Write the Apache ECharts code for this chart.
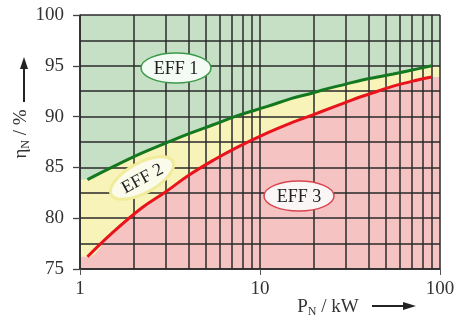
<!doctype html>
<html>
<head>
    <meta charset="utf-8">
    <title>EFF</title>
    <script src="https://cdn.jsdelivr.net/npm/echarts@6/dist/echarts.min.js"></script>
</head>
<body style="margin:0;padding:0">
    <div id="tb" style="width:470px;height:320px"></div>
    <script>
        // rated power P_N in kW
        var power = [1.1, 1.5, 2.2, 3, 4, 5.5, 7.5, 11, 15, 18.5, 22, 30, 37, 45, 55, 75, 90];
        // EFF1 lower limit (green line), %
        var eff1 = [83.8, 85.0, 86.4, 87.4, 88.3, 89.2, 90.1, 91.0, 91.8, 92.2, 92.6, 93.2, 93.6, 93.9, 94.2, 94.7, 95.0];
        // EFF2 lower limit (red line), %
        var eff2 = [76.2, 78.5, 81.0, 82.6, 84.2, 85.7, 87.0, 88.4, 89.4, 90.0, 90.5, 91.4, 92.0, 92.5, 93.0, 93.6, 93.9];
        var yTicks = [75, 80, 85, 90, 95, 100];
        var xTicks = [1, 10, 100];
        // thin log grid lines
        var gridX = [2, 3, 4, 5, 6, 7, 8, 9, 20, 30, 40, 50, 60, 70, 80, 90];

        var serif = '"Liberation Serif", "DejaVu Serif", serif';
        var gridCol = '#2a2a2a';

        function pairs(ys) {
            return power.map(function (p, i) { return [p, ys[i]]; });
        }
        // fill reaches plot edges: hold end values out to x = 1 and x = 100
        function fillPairs(ys) {
            var d = pairs(ys);
            d.unshift([xTicks[0], ys[0]]);
            d.push([xTicks[xTicks.length - 1], ys[ys.length - 1]]);
            return d;
        }

        function tag(x, y, rot, txt, fill, stroke, lw) {
            return {
                type: 'group', x: x, y: y, rotation: rot, zlevel: 1,
                children: [
                    { type: 'ellipse', zlevel: 1, shape: { cx: 0, cy: 0, rx: 35, ry: 15 }, style: { fill: fill, stroke: stroke, lineWidth: lw } },
                    { type: 'text', zlevel: 1, style: { text: txt, x: 0, y: 1, align: 'center', verticalAlign: 'middle', fill: '#222', font: '18px ' + serif } }
                ]
            };
        }

        var chart = echarts.init(document.getElementById('tb'));
        chart.setOption({
            animation: false,
            grid: {
                left: 80, right: 30, top: 15, bottom: 51,
                show: true,
                backgroundColor: '#c5e0c5',
                borderWidth: 0
            },
            xAxis: {
                type: 'log',
                logBase: 10,
                min: 1,
                max: 100,
                z: 3,
                axisLine: { lineStyle: { color: gridCol, width: 1.5 } },
                axisTick: { show: true, length: 6, lineStyle: { color: '#555' } },
                splitLine: { show: true, lineStyle: { color: gridCol, width: 1.5 } },
                axisLabel: {
                    color: '#333', fontFamily: serif, fontSize: 19, margin: 11,
                    formatter: function (v) { return xTicks.indexOf(v) >= 0 ? String(v) : ''; }
                }
            },
            yAxis: {
                type: 'value',
                min: yTicks[0],
                max: yTicks[yTicks.length - 1],
                interval: 5,
                z: 3,
                axisLine: { show: true, lineStyle: { color: gridCol, width: 1.5 } },
                axisTick: { show: true, length: 7, lineStyle: { color: '#444', width: 1.3 } },
                splitLine: { show: true, lineStyle: { color: gridCol, width: 1.5 } },
                minorTick: { show: false, splitNumber: 2 },
                minorSplitLine: { show: true, lineStyle: { color: gridCol, width: 1.5 } },
                axisLabel: { color: '#333', fontFamily: serif, fontSize: 19, margin: 16 }
            },
            series: [{
                // yellow band (EFF 2) under green line
                type: 'line',
                z: 1,
                silent: true,
                symbol: 'none',
                smooth: 0.4,
                lineStyle: { width: 0 },
                areaStyle: { color: '#f7f3b9', opacity: 1, origin: 'start' },
                data: fillPairs(eff1)
            }, {
                // pink area (EFF 3) under red line
                type: 'line',
                z: 1.5,
                silent: true,
                symbol: 'none',
                smooth: 0.4,
                lineStyle: { width: 0 },
                areaStyle: { color: '#f6c3c3', opacity: 1, origin: 'start' },
                data: fillPairs(eff2)
            }, {
                // vertical log grid
                type: 'line',
                z: 3,
                silent: true,
                data: [],
                markLine: {
                    silent: true,
                    symbol: 'none',
                    label: { show: false },
                    lineStyle: { color: gridCol, width: 1.5, type: 'solid' },
                    data: gridX.map(function (v) { return { xAxis: v }; })
                }
            }, {
                name: 'EFF1',
                type: 'line',
                z: 5,
                symbol: 'none',
                smooth: 0.4,
                lineStyle: { color: '#13781f', width: 3 },
                data: pairs(eff1)
            }, {
                name: 'EFF2',
                type: 'line',
                z: 5,
                symbol: 'none',
                smooth: 0.4,
                lineStyle: { color: '#e8131b', width: 3 },
                data: pairs(eff2)
            }],
            graphic: [
                // region labels
                tag(176, 68, 0, 'EFF 1', '#f4faf4', '#3a9a48', 1.5),
                tag(142, 178, 0.5, 'EFF 2', '#fbfbec', '#f1ec9c', 3),
                tag(299, 196, 0, 'EFF 3', '#fbf6f6', '#d9454f', 1.5),
                // y axis name with arrow
                {
                    type: 'text', x: 21, y: 134, rotation: Math.PI / 2, zlevel: 1,
                    style: {
                        text: '{a|η}{s|N}{a| / %}',
                        align: 'center', verticalAlign: 'middle',
                        rich: {
                            a: { fontFamily: serif, fontSize: 19, fill: '#333', lineHeight: 22 },
                            s: { fontFamily: serif, fontSize: 12, fill: '#333', padding: [9, 0, 0, 0] }
                        }
                    }
                },
                {
                    type: 'line', zlevel: 1,
                    shape: { x1: 24, y1: 102, x2: 24, y2: 66 },
                    style: { stroke: '#222', lineWidth: 2 }
                },
                {
                    type: 'polygon', zlevel: 1,
                    shape: { points: [[24, 57], [20, 69], [28, 69]] },
                    style: { fill: '#222' }
                },
                // x axis name with arrow
                {
                    type: 'text', x: 328, y: 307, zlevel: 1,
                    style: {
                        text: '{a|P}{s|N}{a| / kW}',
                        align: 'center', verticalAlign: 'middle',
                        rich: {
                            a: { fontFamily: serif, fontSize: 19, fill: '#333', lineHeight: 22 },
                            s: { fontFamily: serif, fontSize: 12, fill: '#333', padding: [9, 0, 0, 0] }
                        }
                    }
                },
                {
                    type: 'line', zlevel: 1,
                    shape: { x1: 372, y1: 306, x2: 405, y2: 306 },
                    style: { stroke: '#222', lineWidth: 2 }
                },
                {
                    type: 'polygon', zlevel: 1,
                    shape: { points: [[416, 306], [403, 302], [403, 310]] },
                    style: { fill: '#222' }
                }
            ]
        });
    </script>
</body>
</html>
